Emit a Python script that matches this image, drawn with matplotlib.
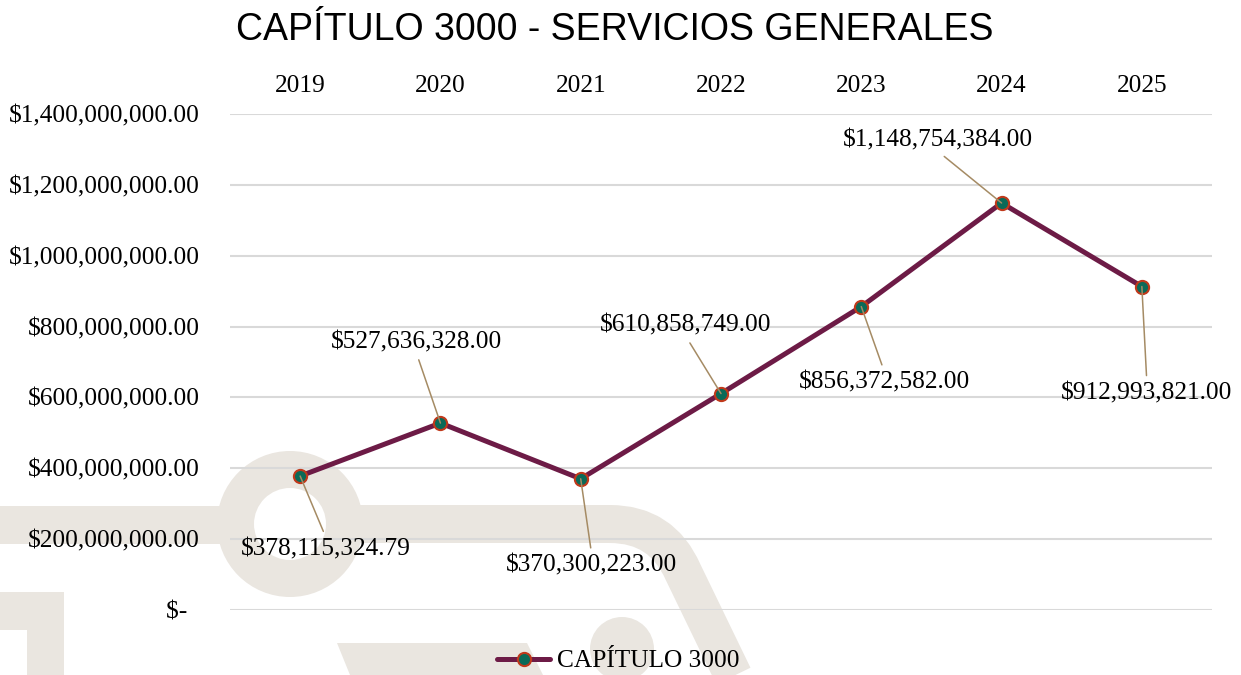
import matplotlib
matplotlib.use("Agg")
import matplotlib.pyplot as plt
from matplotlib.patches import Circle, Rectangle, Polygon, PathPatch
from matplotlib.path import Path

# -----------------------------------------------------------------------------
# Data
# -----------------------------------------------------------------------------
years = ["2019", "2020", "2021", "2022", "2023", "2024", "2025"]
amounts = [378115324.79, 527636328.00, 370300223.00, 610858749.00,
           856372582.00, 1148754384.00, 912993821.00]
y_ticks = [0, 200e6, 400e6, 600e6, 800e6, 1000e6, 1200e6, 1400e6]

# label offsets from each point, in pixels (x right, y up)
label_dx = [26, -24, 11, -35, 23, -64, 5]
label_dy = [-73, 81, -87, 68, -76, 63, -107]

LINE = "#6d1b46"
MARK_FACE = "#0b6a58"
MARK_EDGE = "#c0391b"
LEADER = "#a58b64"
GRID = "#d9d9d9"
WATERMARK = "#eae6e0"
SERIF = "Liberation Serif"
FS = 18.3

W, H = 1241, 675
fig = plt.figure(figsize=(W / 100, H / 100), dpi=100)
fig.patch.set_facecolor("white")

# -----------------------------------------------------------------------------
# Watermark shapes behind the chart (pixel coordinates)
# -----------------------------------------------------------------------------
bg = fig.add_axes([0, 0, 1, 1], zorder=0)
bg.set_xlim(0, W)
bg.set_ylim(H, 0)
bg.axis("off")

bg.add_patch(Rectangle((0, 506), 225, 38, color=WATERMARK, lw=0))
bg.add_patch(Circle((290, 524), 73, color=WATERMARK, lw=0))
bg.add_patch(Circle((290, 524), 36, color="white", lw=0))
band = Path([(355, 524), (610, 524), (662, 524), (683, 572), (745, 700)],
            [Path.MOVETO, Path.LINETO, Path.CURVE3, Path.CURVE3, Path.LINETO])
bg.add_patch(PathPatch(band, facecolor="none", edgecolor=WATERMARK,
                       lw=38 * 0.72, capstyle="butt", joinstyle="round"))
bg.add_patch(Circle((622, 649), 32, color=WATERMARK, lw=0))
bg.add_patch(Polygon([(337, 643), (527, 643), (543, 675), (350, 675)],
                     closed=True, color=WATERMARK, lw=0))
bg.add_patch(Polygon([(0, 592), (64, 592), (64, 675), (27, 675), (27, 630), (0, 630)],
                     closed=True, color=WATERMARK, lw=0))

# -----------------------------------------------------------------------------
# Main chart
# -----------------------------------------------------------------------------
ax = fig.add_axes([230 / W, 1 - 610 / H, 982 / W, 496 / H], zorder=1)
ax.set_facecolor("none")

x = list(range(len(years)))
line, = ax.plot(x, amounts, color=LINE, lw=3.6, marker="o", ms=9.5,
                mfc=MARK_FACE, mec=MARK_EDGE, mew=1.5, zorder=3,
                label="CAPÍTULO 3000", solid_capstyle="round")

ax.set_xlim(-0.5, len(years) - 0.5)
ax.set_ylim(0, 1400e6)

ax.set_yticks(y_ticks)
ax.set_yticklabels([f"${v:,.2f}" if v else "$-\u2007" for v in y_ticks],
                   fontfamily=SERIF, fontsize=FS)
ax.set_xticks(x)
ax.set_xticklabels(years, fontfamily=SERIF, fontsize=FS)
ax.xaxis.tick_top()
ax.tick_params(axis="both", length=0)
ax.tick_params(axis="x", pad=12)
ax.tick_params(axis="y", pad=21.5)

ax.grid(axis="y", color=GRID, lw=1.5)
ax.set_axisbelow(True)
for s in ax.spines.values():
    s.set_visible(False)

for xi, v, dx, dy in zip(x, amounts, label_dx, label_dy):
    ax.annotate(f"${v:,.2f}", xy=(xi, v), xytext=(dx, dy),
                textcoords="offset pixels", ha="center", va="center",
                fontfamily=SERIF, fontsize=FS, zorder=4,
                arrowprops=dict(arrowstyle="-", color=LEADER, lw=1.1,
                                shrinkA=3, shrinkB=0,
                                relpos=(0.5, 0) if dy > 0 else (0.5, 1)))

fig.text(615 / W, 1 - 30 / H, "CAPÍTULO 3000 - SERVICIOS GENERALES",
         ha="center", va="center", fontfamily="Liberation Sans", fontsize=27)

fig.legend(handles=[line], loc="center", bbox_to_anchor=(618 / W, 1 - 661 / H),
           frameon=False, prop={"family": SERIF, "size": FS},
           handlelength=2.1, handletextpad=0.25)

fig.savefig("out.png", dpi=100, facecolor="white")
